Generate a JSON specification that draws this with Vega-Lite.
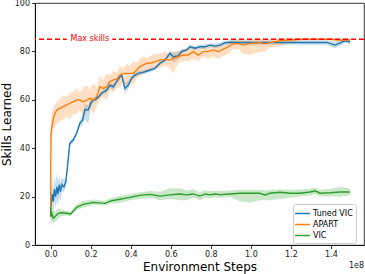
{
  "$schema": "https://vega.github.io/schema/vega-lite/v6.json",
  "width": 329,
  "height": 242,
  "autosize": {"type": "none"},
  "padding": {"left": 35, "top": 3, "right": 1, "bottom": 29},
  "config": {
    "font": "DejaVu Sans",
    "view": {"stroke": "#000", "strokeWidth": 0.8},
    "axis": {"labelFontSize": 8, "titleFontSize": 12, "titleFontWeight": "normal", "tickSize": 3.5, "tickColor": "#000", "domainColor": "#000", "domainWidth": 0.8, "tickWidth": 0.8, "labelColor": "#222", "titleColor": "#000", "grid": false, "labelPadding": 2}
  },
  "resolve": {"legend": {"color": "independent"}},
  "datasets": {
    "runs": [
      {"series": "Tuned VIC", "x": 0.002, "y": 16, "lo": 11, "hi": 21},
      {"series": "Tuned VIC", "x": 0.008, "y": 21, "lo": 16, "hi": 27},
      {"series": "Tuned VIC", "x": 0.013, "y": 18, "lo": 13, "hi": 23},
      {"series": "Tuned VIC", "x": 0.019, "y": 23, "lo": 18, "hi": 28},
      {"series": "Tuned VIC", "x": 0.025, "y": 20, "lo": 15, "hi": 25},
      {"series": "Tuned VIC", "x": 0.031, "y": 24, "lo": 19, "hi": 30},
      {"series": "Tuned VIC", "x": 0.037, "y": 21, "lo": 16, "hi": 26},
      {"series": "Tuned VIC", "x": 0.043, "y": 25, "lo": 20, "hi": 29},
      {"series": "Tuned VIC", "x": 0.049, "y": 22, "lo": 18, "hi": 26},
      {"series": "Tuned VIC", "x": 0.056, "y": 25, "lo": 22, "hi": 28},
      {"series": "Tuned VIC", "x": 0.066, "y": 24, "lo": 22, "hi": 27},
      {"series": "Tuned VIC", "x": 0.076, "y": 26, "lo": 24, "hi": 28},
      {"series": "Tuned VIC", "x": 0.096, "y": 42, "lo": 41, "hi": 43},
      {"series": "Tuned VIC", "x": 0.113, "y": 43.4, "lo": 42.4, "hi": 44.4},
      {"series": "Tuned VIC", "x": 0.13, "y": 46.2, "lo": 45.2, "hi": 47.2},
      {"series": "Tuned VIC", "x": 0.146, "y": 50.3, "lo": 49, "hi": 51.5},
      {"series": "Tuned VIC", "x": 0.16, "y": 51.7, "lo": 49.5, "hi": 54},
      {"series": "Tuned VIC", "x": 0.171, "y": 56, "lo": 52, "hi": 58},
      {"series": "Tuned VIC", "x": 0.188, "y": 55.8, "lo": 50, "hi": 58},
      {"series": "Tuned VIC", "x": 0.2, "y": 58.5, "lo": 56, "hi": 61},
      {"series": "Tuned VIC", "x": 0.213, "y": 59.9, "lo": 59, "hi": 61},
      {"series": "Tuned VIC", "x": 0.226, "y": 60.2, "lo": 59.2, "hi": 61.2},
      {"series": "Tuned VIC", "x": 0.243, "y": 61.6, "lo": 60.6, "hi": 62.6},
      {"series": "Tuned VIC", "x": 0.255, "y": 62.7, "lo": 61.7, "hi": 63.7},
      {"series": "Tuned VIC", "x": 0.28, "y": 64, "lo": 63, "hi": 65},
      {"series": "Tuned VIC", "x": 0.296, "y": 66.1, "lo": 65, "hi": 67},
      {"series": "Tuned VIC", "x": 0.313, "y": 65.4, "lo": 64, "hi": 66.5},
      {"series": "Tuned VIC", "x": 0.33, "y": 67.5, "lo": 66.5, "hi": 68.5},
      {"series": "Tuned VIC", "x": 0.346, "y": 69.5, "lo": 68.5, "hi": 70.5},
      {"series": "Tuned VIC", "x": 0.355, "y": 70.2, "lo": 69.5, "hi": 71},
      {"series": "Tuned VIC", "x": 0.371, "y": 64.7, "lo": 62.5, "hi": 67},
      {"series": "Tuned VIC", "x": 0.388, "y": 66.1, "lo": 64.5, "hi": 68},
      {"series": "Tuned VIC", "x": 0.405, "y": 68.9, "lo": 68, "hi": 70},
      {"series": "Tuned VIC", "x": 0.421, "y": 70.2, "lo": 69.2, "hi": 71.2},
      {"series": "Tuned VIC", "x": 0.438, "y": 70.9, "lo": 70, "hi": 71.8},
      {"series": "Tuned VIC", "x": 0.455, "y": 71.2, "lo": 70.4, "hi": 72},
      {"series": "Tuned VIC", "x": 0.471, "y": 71.6, "lo": 70.8, "hi": 72.4},
      {"series": "Tuned VIC", "x": 0.496, "y": 72.3, "lo": 71.5, "hi": 73.1},
      {"series": "Tuned VIC", "x": 0.521, "y": 73, "lo": 72.2, "hi": 73.8},
      {"series": "Tuned VIC", "x": 0.546, "y": 75.1, "lo": 74.3, "hi": 75.9},
      {"series": "Tuned VIC", "x": 0.571, "y": 76.4, "lo": 75.6, "hi": 77.2},
      {"series": "Tuned VIC", "x": 0.596, "y": 79.2, "lo": 78, "hi": 80.5},
      {"series": "Tuned VIC", "x": 0.612, "y": 77.8, "lo": 75.5, "hi": 79.5},
      {"series": "Tuned VIC", "x": 0.637, "y": 78.1, "lo": 76.5, "hi": 80},
      {"series": "Tuned VIC", "x": 0.654, "y": 79.9, "lo": 79, "hi": 80.8},
      {"series": "Tuned VIC", "x": 0.679, "y": 80.6, "lo": 79.8, "hi": 81.4},
      {"series": "Tuned VIC", "x": 0.696, "y": 81.9, "lo": 81, "hi": 82.8},
      {"series": "Tuned VIC", "x": 0.721, "y": 81.3, "lo": 80.5, "hi": 82.1},
      {"series": "Tuned VIC", "x": 0.746, "y": 81.9, "lo": 81, "hi": 82.8},
      {"series": "Tuned VIC", "x": 0.771, "y": 81.9, "lo": 81, "hi": 83},
      {"series": "Tuned VIC", "x": 0.796, "y": 82.6, "lo": 81.8, "hi": 83.4},
      {"series": "Tuned VIC", "x": 0.821, "y": 82.2, "lo": 81.2, "hi": 83.2},
      {"series": "Tuned VIC", "x": 0.846, "y": 82.6, "lo": 81.8, "hi": 83.6},
      {"series": "Tuned VIC", "x": 0.871, "y": 83.6, "lo": 82.8, "hi": 84.4},
      {"series": "Tuned VIC", "x": 0.896, "y": 83.8, "lo": 82.8, "hi": 84.6},
      {"series": "Tuned VIC", "x": 0.95, "y": 83.7, "lo": 82.7, "hi": 84.5},
      {"series": "Tuned VIC", "x": 1.0, "y": 83.7, "lo": 82.7, "hi": 84.5},
      {"series": "Tuned VIC", "x": 1.1, "y": 83.7, "lo": 82.7, "hi": 84.5},
      {"series": "Tuned VIC", "x": 1.2, "y": 83.7, "lo": 82.7, "hi": 84.5},
      {"series": "Tuned VIC", "x": 1.3, "y": 83.7, "lo": 82.7, "hi": 84.5},
      {"series": "Tuned VIC", "x": 1.38, "y": 83.7, "lo": 82.7, "hi": 84.5},
      {"series": "Tuned VIC", "x": 1.42, "y": 82.6, "lo": 81.2, "hi": 84},
      {"series": "Tuned VIC", "x": 1.45, "y": 83.6, "lo": 82.6, "hi": 84.6},
      {"series": "Tuned VIC", "x": 1.47, "y": 84.4, "lo": 83.6, "hi": 85.2},
      {"series": "Tuned VIC", "x": 1.495, "y": 84, "lo": 82.6, "hi": 85},

      {"series": "APART", "x": 0.0, "y": 11.7, "lo": 7, "hi": 16},
      {"series": "APART", "x": 0.0015, "y": 46, "lo": 40, "hi": 52},
      {"series": "APART", "x": 0.0065, "y": 49, "lo": 44, "hi": 55},
      {"series": "APART", "x": 0.016, "y": 53, "lo": 48, "hi": 57},
      {"series": "APART", "x": 0.03, "y": 55.8, "lo": 50, "hi": 59},
      {"series": "APART", "x": 0.046, "y": 56.5, "lo": 51, "hi": 60},
      {"series": "APART", "x": 0.063, "y": 57.2, "lo": 52, "hi": 62},
      {"series": "APART", "x": 0.08, "y": 57.9, "lo": 53, "hi": 61},
      {"series": "APART", "x": 0.096, "y": 58.5, "lo": 52, "hi": 63},
      {"series": "APART", "x": 0.113, "y": 59.2, "lo": 54, "hi": 63},
      {"series": "APART", "x": 0.13, "y": 59.9, "lo": 54, "hi": 65},
      {"series": "APART", "x": 0.146, "y": 59.9, "lo": 56, "hi": 63},
      {"series": "APART", "x": 0.163, "y": 59.2, "lo": 53, "hi": 65},
      {"series": "APART", "x": 0.18, "y": 59.9, "lo": 55, "hi": 66},
      {"series": "APART", "x": 0.196, "y": 60.6, "lo": 57, "hi": 64},
      {"series": "APART", "x": 0.213, "y": 59.9, "lo": 54, "hi": 67},
      {"series": "APART", "x": 0.23, "y": 61.3, "lo": 57, "hi": 65},
      {"series": "APART", "x": 0.246, "y": 65.4, "lo": 60, "hi": 70},
      {"series": "APART", "x": 0.263, "y": 64.7, "lo": 61, "hi": 68},
      {"series": "APART", "x": 0.28, "y": 65.4, "lo": 60, "hi": 71},
      {"series": "APART", "x": 0.296, "y": 67.5, "lo": 64, "hi": 70},
      {"series": "APART", "x": 0.313, "y": 68.2, "lo": 63, "hi": 72},
      {"series": "APART", "x": 0.33, "y": 68.5, "lo": 65, "hi": 71},
      {"series": "APART", "x": 0.346, "y": 70.2, "lo": 65, "hi": 74},
      {"series": "APART", "x": 0.363, "y": 70.9, "lo": 67, "hi": 73},
      {"series": "APART", "x": 0.38, "y": 70.9, "lo": 66, "hi": 75},
      {"series": "APART", "x": 0.396, "y": 70.9, "lo": 67, "hi": 74},
      {"series": "APART", "x": 0.413, "y": 70.9, "lo": 66, "hi": 76},
      {"series": "APART", "x": 0.43, "y": 72.3, "lo": 69, "hi": 75},
      {"series": "APART", "x": 0.446, "y": 73.7, "lo": 70, "hi": 77},
      {"series": "APART", "x": 0.463, "y": 74.4, "lo": 71, "hi": 78},
      {"series": "APART", "x": 0.48, "y": 75.1, "lo": 72, "hi": 77},
      {"series": "APART", "x": 0.496, "y": 75.1, "lo": 72, "hi": 78},
      {"series": "APART", "x": 0.521, "y": 75.7, "lo": 73, "hi": 79},
      {"series": "APART", "x": 0.546, "y": 76.4, "lo": 73, "hi": 79},
      {"series": "APART", "x": 0.571, "y": 76.7, "lo": 74, "hi": 80},
      {"series": "APART", "x": 0.596, "y": 76.4, "lo": 73, "hi": 79},
      {"series": "APART", "x": 0.612, "y": 77.1, "lo": 71, "hi": 80},
      {"series": "APART", "x": 0.637, "y": 77.8, "lo": 75, "hi": 80},
      {"series": "APART", "x": 0.662, "y": 78.5, "lo": 76, "hi": 81},
      {"series": "APART", "x": 0.687, "y": 78.5, "lo": 76, "hi": 81},
      {"series": "APART", "x": 0.712, "y": 79.9, "lo": 77, "hi": 82},
      {"series": "APART", "x": 0.737, "y": 78.5, "lo": 76, "hi": 81},
      {"series": "APART", "x": 0.762, "y": 79.9, "lo": 78, "hi": 82},
      {"series": "APART", "x": 0.787, "y": 79.9, "lo": 77, "hi": 82},
      {"series": "APART", "x": 0.812, "y": 80.6, "lo": 78, "hi": 83},
      {"series": "APART", "x": 0.837, "y": 79.9, "lo": 77, "hi": 82},
      {"series": "APART", "x": 0.862, "y": 80.9, "lo": 78, "hi": 83},
      {"series": "APART", "x": 0.887, "y": 81.9, "lo": 79, "hi": 84},
      {"series": "APART", "x": 0.912, "y": 83.1, "lo": 81, "hi": 85},
      {"series": "APART", "x": 0.937, "y": 83.3, "lo": 81, "hi": 85},
      {"series": "APART", "x": 0.962, "y": 82.6, "lo": 79, "hi": 84.5},
      {"series": "APART", "x": 0.996, "y": 83.3, "lo": 78.5, "hi": 85},
      {"series": "APART", "x": 1.045, "y": 83.6, "lo": 80, "hi": 85.5},
      {"series": "APART", "x": 1.07, "y": 83.1, "lo": 80, "hi": 85},
      {"series": "APART", "x": 1.095, "y": 83.6, "lo": 81.5, "hi": 85},
      {"series": "APART", "x": 1.145, "y": 84.4, "lo": 82, "hi": 85.5},
      {"series": "APART", "x": 1.195, "y": 84.7, "lo": 83.5, "hi": 85.5},
      {"series": "APART", "x": 1.25, "y": 85, "lo": 84.5, "hi": 85.5},
      {"series": "APART", "x": 1.3, "y": 85, "lo": 84.5, "hi": 85.5},
      {"series": "APART", "x": 1.4, "y": 85, "lo": 84.5, "hi": 85.5},
      {"series": "APART", "x": 1.45, "y": 84.6, "lo": 84, "hi": 85.3},
      {"series": "APART", "x": 1.495, "y": 84.8, "lo": 84.2, "hi": 85.4},

      {"series": "VIC", "x": 0.0, "y": 15.8, "lo": 7, "hi": 17},
      {"series": "VIC", "x": 0.0015, "y": 11.7, "lo": 8, "hi": 16},
      {"series": "VIC", "x": 0.0065, "y": 13.1, "lo": 10, "hi": 16},
      {"series": "VIC", "x": 0.013, "y": 11, "lo": 9, "hi": 14},
      {"series": "VIC", "x": 0.021, "y": 11.7, "lo": 9.5, "hi": 14},
      {"series": "VIC", "x": 0.03, "y": 12.4, "lo": 10, "hi": 14.5},
      {"series": "VIC", "x": 0.038, "y": 13.1, "lo": 11, "hi": 15},
      {"series": "VIC", "x": 0.055, "y": 13.3, "lo": 12, "hi": 14.7},
      {"series": "VIC", "x": 0.08, "y": 13.1, "lo": 12.2, "hi": 14},
      {"series": "VIC", "x": 0.1, "y": 12.8, "lo": 12, "hi": 13.8},
      {"series": "VIC", "x": 0.13, "y": 15.6, "lo": 14.5, "hi": 16.8},
      {"series": "VIC", "x": 0.163, "y": 16.8, "lo": 15.5, "hi": 18.2},
      {"series": "VIC", "x": 0.213, "y": 17.6, "lo": 16.5, "hi": 18.8},
      {"series": "VIC", "x": 0.271, "y": 17.2, "lo": 16.3, "hi": 18.3},
      {"series": "VIC", "x": 0.305, "y": 18.3, "lo": 17.2, "hi": 19.5},
      {"series": "VIC", "x": 0.346, "y": 18.9, "lo": 17.5, "hi": 20.2},
      {"series": "VIC", "x": 0.396, "y": 19.7, "lo": 18.5, "hi": 21},
      {"series": "VIC", "x": 0.446, "y": 20.5, "lo": 19, "hi": 21.8},
      {"series": "VIC", "x": 0.496, "y": 20.9, "lo": 19.5, "hi": 22.3},
      {"series": "VIC", "x": 0.546, "y": 20.2, "lo": 18.5, "hi": 22},
      {"series": "VIC", "x": 0.596, "y": 20.7, "lo": 19, "hi": 23.5},
      {"series": "VIC", "x": 0.646, "y": 21.1, "lo": 18.5, "hi": 23.5},
      {"series": "VIC", "x": 0.679, "y": 20.7, "lo": 18.5, "hi": 22.5},
      {"series": "VIC", "x": 0.712, "y": 21.1, "lo": 19.5, "hi": 23},
      {"series": "VIC", "x": 0.746, "y": 20.2, "lo": 18.5, "hi": 21.8},
      {"series": "VIC", "x": 0.771, "y": 21.1, "lo": 19.5, "hi": 22.6},
      {"series": "VIC", "x": 0.796, "y": 20.7, "lo": 19.3, "hi": 22.2},
      {"series": "VIC", "x": 0.821, "y": 21.1, "lo": 19.7, "hi": 22.5},
      {"series": "VIC", "x": 0.846, "y": 20.8, "lo": 19.5, "hi": 22.2},
      {"series": "VIC", "x": 0.896, "y": 21.1, "lo": 19.8, "hi": 22.5},
      {"series": "VIC", "x": 0.946, "y": 21.4, "lo": 18, "hi": 22.8},
      {"series": "VIC", "x": 0.996, "y": 21.4, "lo": 17.5, "hi": 22.8},
      {"series": "VIC", "x": 1.045, "y": 21.4, "lo": 18.5, "hi": 22.8},
      {"series": "VIC", "x": 1.07, "y": 20.7, "lo": 18.5, "hi": 22.5},
      {"series": "VIC", "x": 1.095, "y": 21.4, "lo": 18.5, "hi": 22.8},
      {"series": "VIC", "x": 1.145, "y": 21.8, "lo": 19, "hi": 23},
      {"series": "VIC", "x": 1.195, "y": 21.4, "lo": 19.5, "hi": 22.8},
      {"series": "VIC", "x": 1.245, "y": 21.4, "lo": 20, "hi": 22.8},
      {"series": "VIC", "x": 1.295, "y": 21.9, "lo": 20.5, "hi": 23.2},
      {"series": "VIC", "x": 1.32, "y": 22.4, "lo": 21, "hi": 23.8},
      {"series": "VIC", "x": 1.345, "y": 21.4, "lo": 20, "hi": 22.8},
      {"series": "VIC", "x": 1.395, "y": 21.6, "lo": 20, "hi": 23.2},
      {"series": "VIC", "x": 1.445, "y": 21.9, "lo": 20, "hi": 24},
      {"series": "VIC", "x": 1.495, "y": 21.9, "lo": 20.5, "hi": 23.5}
    ],
    "notes": [
      {"label": "Max skills", "x": 0.196, "y": 85, "x0": 0.08, "x1": 0.308, "y0": 83, "y1": 87}
    ],
    "unit": [
      {"label": "1e8", "x": 1.565, "y": -8.5}
    ]
  },
  "layer": [
    {
      "data": {"name": "runs"},
      "mark": {"type": "area", "opacity": 0.25, "clip": true},
      "encoding": {
        "x": {"field": "x", "type": "quantitative", "scale": {"domain": [-0.078, 1.565], "nice": false, "zero": false},
              "axis": {"values": [0, 0.2, 0.4, 0.6, 0.8, 1.0, 1.2, 1.4], "format": ".1f", "title": "Environment Steps", "titlePadding": 3}},
        "y": {"field": "lo", "type": "quantitative", "scale": {"domain": [0, 100], "nice": false},
              "axis": {"values": [0, 20, 40, 60, 80, 100], "title": "Skills Learned", "titlePadding": 1}},
        "y2": {"field": "hi"},
        "color": {"field": "series", "type": "nominal", "legend": null,
                  "scale": {"domain": ["Tuned VIC", "APART", "VIC"], "range": ["#1f77b4", "#ff7f0e", "#2ca02c"]}}
      }
    },
    {
      "data": {"name": "runs"},
      "mark": {"type": "line", "strokeWidth": 1.4, "clip": true},
      "encoding": {
        "x": {"field": "x", "type": "quantitative"},
        "y": {"field": "y", "type": "quantitative"},
        "color": {"field": "series", "type": "nominal",
                  "legend": {"title": null, "orient": "none", "legendX": 258, "legendY": 201, "symbolType": "M-1.35,0H1.35", "symbolSize": 121, "symbolStrokeWidth": 1.5, "labelFontSize": 8, "labelColor": "#000", "fillColor": "white", "strokeColor": "#cccccc", "cornerRadius": 2, "padding": 3, "rowPadding": 0, "labelOffset": 4}},
        "order": {"field": "x"}
      }
    },
    {
      "data": {"name": "notes"},
      "mark": {"type": "rule", "color": "#ff0000", "strokeDash": [5, 3], "strokeWidth": 1.5, "opacity": 1},
      "encoding": {"y": {"field": "y", "type": "quantitative"}}
    },
    {
      "data": {"name": "notes"},
      "mark": {"type": "rect", "color": "white"},
      "encoding": {"x": {"field": "x0", "type": "quantitative"}, "x2": {"field": "x1"}, "y": {"field": "y0", "type": "quantitative"}, "y2": {"field": "y1"}}
    },
    {
      "data": {"name": "notes"},
      "mark": {"type": "text", "color": "#ff0000", "fontSize": 8, "align": "center", "baseline": "middle"},
      "encoding": {"x": {"field": "x", "type": "quantitative"}, "y": {"field": "y", "type": "quantitative"}, "text": {"field": "label"}}
    },
    {
      "data": {"name": "unit"},
      "mark": {"type": "text", "color": "#222", "fontSize": 8, "align": "right", "baseline": "middle", "clip": false},
      "encoding": {"x": {"field": "x", "type": "quantitative"}, "y": {"field": "y", "type": "quantitative"}, "text": {"field": "label"}}
    }
  ]
}
